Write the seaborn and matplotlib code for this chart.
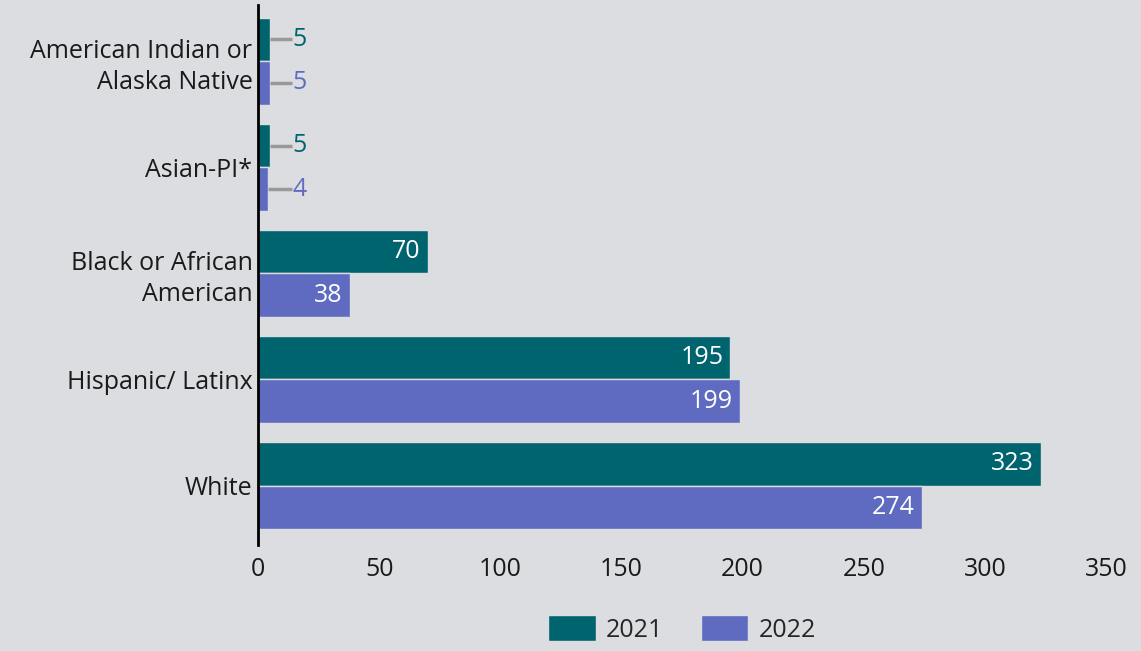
import matplotlib
matplotlib.use("Agg")
import matplotlib.pyplot as plt
import pandas as pd
import seaborn as sns

categories = ["American Indian or\nAlaska Native", "Asian-PI*", "Black or African\nAmerican",
              "Hispanic/ Latinx", "White"]
years = ["2021", "2022"]
values_2021 = [5, 5, 70, 195, 323]
values_2022 = [5, 4, 38, 199, 274]
xticks = [0, 50, 100, 150, 200, 250, 300, 350]

colors = {"2021": "#00646e", "2022": "#5e6bc0"}
bg = "#dcdde0"

df = pd.DataFrame({
    "category": categories * 2,
    "year": ["2021"] * len(categories) + ["2022"] * len(categories),
    "value": values_2021 + values_2022,
})

sns.set_style("white")
plt.rcParams["font.family"] = ["Open Sans", "DejaVu Sans"]
fs = 18

fig = plt.figure(figsize=(11.41, 6.51), dpi=100, facecolor=bg)
ax = fig.add_axes([258 / 1141, 1 - 545 / 651, (1106 - 258) / 1141, 540 / 651])
ax.set_facecolor(bg)

sns.barplot(data=df, y="category", x="value", hue="year", hue_order=years,
            order=categories, palette=colors, orient="h", width=0.82,
            saturation=1, edgecolor=bg, linewidth=1, ax=ax)

# value labels
for container, yr in zip(ax.containers, years):
    for bar, val in zip(container, container.datavalues):
        yc = bar.get_y() + bar.get_height() / 2
        if val >= 20:
            ax.text(val - 3, yc, f"{int(val)}", color="white", ha="right",
                    va="center", fontsize=fs)
        else:
            ax.plot([val, 14], [yc, yc], color="#999999", lw=2.5, solid_capstyle="butt")
            ax.text(14.3, yc, f"{int(val)}", color=colors[yr], ha="left",
                    va="center", fontsize=fs)

ax.set_xlim(0, 350)
ax.set_xticks(xticks)
ax.set_ylim(4.56, -0.53)
ax.set_xlabel("")
ax.set_ylabel("")
ax.tick_params(axis="both", length=0, labelsize=fs, colors="#1a1a1a")
ax.tick_params(axis="x", pad=9)
ax.tick_params(axis="y", pad=4)
for lab in ax.get_yticklabels():
    lab.set_horizontalalignment("right")
    lab.set_multialignment("right")
    lab.set_linespacing(1.3)
for s in ["top", "right", "bottom"]:
    ax.spines[s].set_visible(False)
ax.spines["left"].set_color("black")
ax.spines["left"].set_linewidth(2)

handles, labels = ax.get_legend_handles_labels()
ax.legend(handles, labels, loc="center", bbox_to_anchor=(0.5, -0.155),
          ncol=2, frameon=False, fontsize=fs, handlelength=1.9,
          handleheight=1.25, columnspacing=1.5, handletextpad=0.4)

fig.savefig("out.png", dpi=100, facecolor=bg)
